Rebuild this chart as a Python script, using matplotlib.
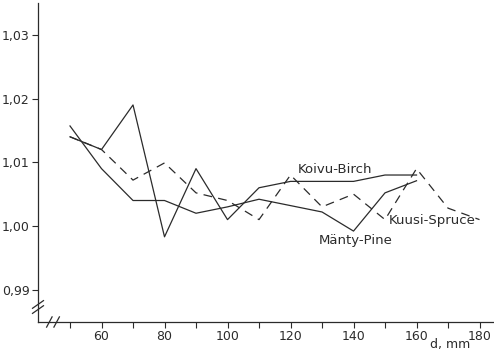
import matplotlib
matplotlib.use("Agg")
import matplotlib.pyplot as plt
from matplotlib.ticker import FixedLocator, FuncFormatter

# diameter classes, mm
d_birch = [50, 60, 70, 80, 90, 100, 110, 120, 130, 140, 150, 160]
birch = [1.014, 1.012, 1.019, 0.9983, 1.009, 1.001, 1.006, 1.007, 1.007, 1.007, 1.008, 1.008]

d_pine = [50, 60, 70, 80, 90, 100, 110, 120, 130, 140, 150, 160]
pine = [1.0157, 1.009, 1.004, 1.004, 1.002, 1.003, 1.0042, 1.0032, 1.0022, 0.9992, 1.0052, 1.0071]

d_spruce = [50, 60, 70, 80, 90, 100, 110, 120, 130, 140, 150, 160, 170, 180]
spruce = [1.014, 1.012, 1.0072, 1.0099, 1.0052, 1.004, 1.001, 1.008, 1.003, 1.005, 1.001, 1.009, 1.0028, 1.001]

y_ticks = [0.99, 1.00, 1.01, 1.02, 1.03]
x_ticks = list(range(50, 190, 10))
x_labels = [60, 80, 100, 120, 140, 160, 180]

INK = "#2b2b2b"
plt.rcParams["font.family"] = ["DejaVu Sans"]
plt.rcParams["font.size"] = 9

fig = plt.figure(figsize=(4.94, 3.5), dpi=100)
ax = fig.add_axes([38 / 494, 28 / 350, 1 - 38 / 494, (322 - 3) / 350])

ax.plot(d_birch, birch, color=INK, lw=0.9)
ax.plot(d_pine, pine, color=INK, lw=0.9)
ax.plot(d_spruce, spruce, color=INK, lw=0.9, dashes=(7, 5))

ax.set_xlim(39.84, 184.6)
ax.set_ylim(0.98493, 1.0350)

for s in ["top", "right"]:
    ax.spines[s].set_visible(False)
for s in ["left", "bottom"]:
    ax.spines[s].set_color(INK)
    ax.spines[s].set_linewidth(0.9)

ax.set_yticks(y_ticks)
ax.yaxis.set_major_formatter(FuncFormatter(lambda v, p: f"{v:.2f}".replace(".", ",")))
ax.xaxis.set_major_locator(FixedLocator(x_ticks))
ax.xaxis.set_major_formatter(FuncFormatter(lambda v, p: f"{int(round(v))}" if int(round(v)) in x_labels else ""))
ax.tick_params(axis="both", direction="out", length=4, width=0.8, color=INK, labelcolor=INK, pad=2)

# axis break marks
kw = dict(transform=ax.transAxes, color=INK, lw=0.9, clip_on=False)
yb = (322 - 307) / 319
for dy in (-0.008, 0.008):
    ax.plot([-0.012, 0.012], [yb + dy - 0.012, yb + dy + 0.012], **kw)
xb = (53 - 38) / 456
for dx in (-0.008, 0.008):
    ax.plot([xb + dx - 0.006, xb + dx + 0.006], [-0.016, 0.016], **kw)

# series labels
lab = dict(color=INK, ha="left", va="center", fontsize=9.5)
ax.annotate("Koivu-Birch", xy=(122.4, 1.0088), **lab)
ax.annotate("Kuusi-Spruce", xy=(151.3, 1.0008), **lab)
ax.annotate("Mänty-Pine", xy=(129, 0.9978), **lab)
ax.annotate("d, mm", xy=(164.3, 0.98493), xytext=(0, -16.5), textcoords="offset points",
            color=INK, ha="left", va="center", fontsize=9)

fig.savefig("out.png", dpi=100)
